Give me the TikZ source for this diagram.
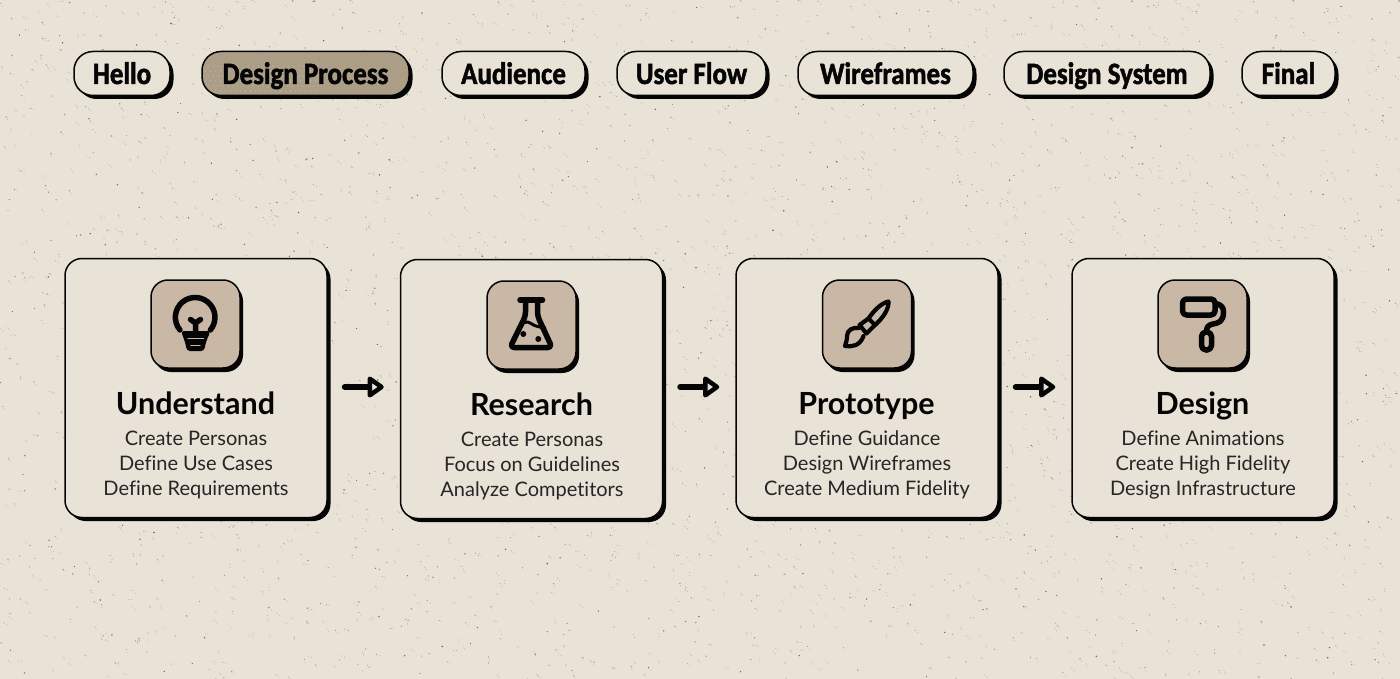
\documentclass[tikz,border=0pt]{standalone}
\usepackage{fontspec}
\setmainfont{Lato}[Ligatures=NoCommon]
\newfontfamily\pillfont{Carlito}[BoldFont={Carlito Bold},BoldFeatures={FakeStretch=0.87,FakeBold=1.6},Ligatures=NoCommon]
\usetikzlibrary{arrows.meta,shadows}
\definecolor{paper}{HTML}{E8E2D7}
\definecolor{tile}{HTML}{C8B8A5}
\definecolor{active}{HTML}{AC9D87}
\definecolor{speck}{HTML}{A29B8D}
\definecolor{speckdark}{HTML}{6F685B}
\definecolor{ink}{HTML}{050505}
\tikzset{
  pillbox/.style={draw=ink,line width=1.5pt,fill=paper,rounded corners=19pt,minimum height=44pt,inner sep=0pt,text=ink,
    font=\pillfont\bfseries\fontsize{31}{31}\selectfont,text height=24pt,text depth=3pt,general shadow={shadow xshift=3.5pt,shadow yshift=-3.5pt,fill=ink}},
  activepill/.style={pillbox,fill=active,general shadow={shadow xshift=2pt,shadow yshift=-2pt,fill=ink}},
  cardbox/.style={draw=ink,line width=1.5pt,fill=paper,rounded corners=17pt,minimum width=262pt,minimum height=259pt,inner sep=0pt,
    general shadow={shadow xshift=3.5pt,shadow yshift=-3.5pt,fill=ink}},
  tilebox/.style={draw=ink,line width=1.5pt,fill=tile,rounded corners=17pt,minimum width=89pt,minimum height=88pt,inner sep=0pt,
    general shadow={shadow xshift=3pt,shadow yshift=-4pt,fill=ink}},
  titletext/.style={font=\bfseries\fontsize{30.5}{31}\selectfont,text=ink,inner sep=0pt,anchor=base},
  bodytext/.style={font=\fontsize{20}{25}\selectfont,text=black!85,align=center,inner sep=0pt},
  flowarrow/.style={draw=ink,line width=6pt,line cap=round,-{Triangle[open,length=18pt,width=24pt,round]},shorten <=17pt,shorten >=16pt},
  iconline/.style={draw=ink,line cap=round,line join=round,line width=5.5pt},
  dot/.style={fill=ink,draw=none},
}
\begin{document}
\begin{tikzpicture}[x=1pt,y=-1pt]
\useasboundingbox (0,0) rectangle (1400,679);
\fill[paper] (0,0) rectangle (1400,679);
% speckled paper
\pgfmathsetseed{4711}
\begin{pgfscope}
\pgfsetfillcolor{speck}
\foreach \b in {1,...,30}{
  \foreach \i in {1,...,90}{
    \pgfmathsetmacro\px{rnd*1400}\pgfmathsetmacro\py{rnd*679}\pgfmathsetmacro\pr{0.35+0.6*rnd*rnd}
    \pgfmathsetmacro\qx{\px+3*rnd}\pgfmathsetmacro\qy{\py+3*rnd}
    \pgfpathcircle{\pgfpointxy{\px}{\py}}{\pr pt}
    \pgfpathcircle{\pgfpointxy{\qx}{\qy}}{0.4pt}
  }
  \pgfusepath{fill}
}
\pgfsetfillcolor{speckdark}
\foreach \b in {1,...,8}{
  \foreach \i in {1,...,80}{
    \pgfmathsetmacro\px{rnd*1400}\pgfmathsetmacro\py{rnd*679}\pgfmathsetmacro\pr{0.4+0.45*rnd}
    \pgfpathcircle{\pgfpointxy{\px}{\py}}{\pr pt}
  }
  \pgfusepath{fill}
}
\end{pgfscope}
% navigation pills
\node[pillbox,minimum width=96pt] (hello) at (122,73.5) {Hello};
\node[activepill,minimum width=207pt,path picture={
    \foreach \dy [count=\r] in {-18,-13,...,20}{
      \pgfmathsetmacro\off{mod(\r,2)*2.5}
      \foreach \dx in {-92,-87,...,97}{\fill[paper!85!active] (\dx+\off,\dy) circle[radius=0.42];}}
  }] (process) at (305.5,73.5) {Design Process};
\node[pillbox,minimum width=143pt] (audience) at (513.5,73.5) {Audience};
\node[pillbox,minimum width=149pt] (userflow) at (691.5,73.5) {User Flow};
\node[pillbox,minimum width=175pt] (wireframes) at (885.5,73.5) {Wireframes};
\node[pillbox,minimum width=206pt] (designsystem) at (1107,73.5) {Design System};
\node[pillbox,minimum width=93pt] (final) at (1288.5,73.5) {Final};
% cards
\node[cardbox] (c1) at (196,388) {};
\node[cardbox] (c2) at (531.5,389) {};
\node[cardbox] (c3) at (867,388) {};
\node[cardbox] (c4) at (1203,388) {};
% tiles
\node[tilebox] (t1) at (195.5,324) {};
\node[tilebox] (t2) at (531.5,325) {};
\node[tilebox] (t3) at (867,324) {};
\node[tilebox] (t4) at (1202.5,324) {};
% titles
\node[titletext] (n1) at (195.5,414) {Understand};
\node[titletext] (n2) at (531.5,415) {Research};
\node[titletext] (n3) at (866.5,414) {Prototype};
\node[titletext] (n4) at (1202.5,414) {Design};
% bodies
\node[bodytext] (b1) at (196,465) {Create Personas\\Define Use Cases\\Define Requirements};
\node[bodytext] (b2) at (532,466) {Create Personas\\Focus on Guidelines\\Analyze Competitors};
\node[bodytext] (b3) at (867,465) {Define Guidance\\Design Wireframes\\Create Medium Fidelity};
\node[bodytext] (b4) at (1203,465) {Define Animations\\Create High Fidelity\\Design Infrastructure};
% connectors
\draw[flowarrow] ([yshift=1pt]c1.east) -- ([yshift=1pt]c1.east -| c2.west);
\draw[flowarrow] ([yshift=1pt]c3.west -| c2.east) -- ([yshift=1pt]c3.west);
\draw[flowarrow] ([yshift=1pt]c3.east) -- ([yshift=1pt]c4.west);
% bulb
\draw[iconline] (180,330) arc[start angle=140,end angle=400,radius=19.8];
\draw[iconline] (190.5,319.5) -- (195.5,323) -- (200.5,319.5) (195.5,323) -- (195.5,334);
\fill[ink,rounded corners=3pt] (181,331) -- (210.5,331) -- (206,342) -- (204,351) -- (187,351) -- (185,342) -- cycle;
\draw[tile,line width=1.4pt,line cap=round] (188,338.5) -- (203.5,338.5);
\draw[tile,line width=1.2pt,line cap=round] (191,345.5) -- (200,345.5);
% flask
\draw[iconline] (520,300) -- (542.5,300);
\draw[iconline,rounded corners=4pt] (525.5,300) -- (525.5,316) -- (510,347.5) -- (552,347.5) -- (537.5,316) -- (537.5,300);
\draw[iconline,line width=3pt] (518,328) .. controls (522,322) and (527,320.5) .. (531,323.5) .. controls (535,326.5) and (540,327) .. (545,328);
\fill[dot] (523.3,334) circle[radius=3];
\fill[dot] (538.3,339) circle[radius=3];
% brush
\draw[iconline,line width=4.2pt] (868.5,318.5) .. controls (875,309) and (882,303) .. (888.5,301.5) .. controls (889,309) and (883,318) .. (875,325);
\draw[iconline,line width=4.2pt] (859.5,325) -- (868.5,318.5) -- (875,325) -- (866.5,333.5) -- cycle;
\draw[iconline,line width=4.2pt] (859,328) .. controls (853,327) and (847,330) .. (847,336) .. controls (847,340) and (846,343) .. (845,346) .. controls (852,347) and (860,346) .. (863.5,336);
% roller
\draw[iconline,rounded corners=4pt] (1182.5,299) rectangle (1215,315);
\draw[iconline] (1216,303.5) .. controls (1222,305) and (1223.5,308) .. (1223.5,312) .. controls (1223.5,322) and (1218,323) .. (1213,324) .. controls (1208,325) and (1206.5,327) .. (1206.5,332);
\draw[iconline,rounded corners=4.5pt] (1201.5,332) rectangle (1211.5,350);
\end{tikzpicture}
\end{document}
